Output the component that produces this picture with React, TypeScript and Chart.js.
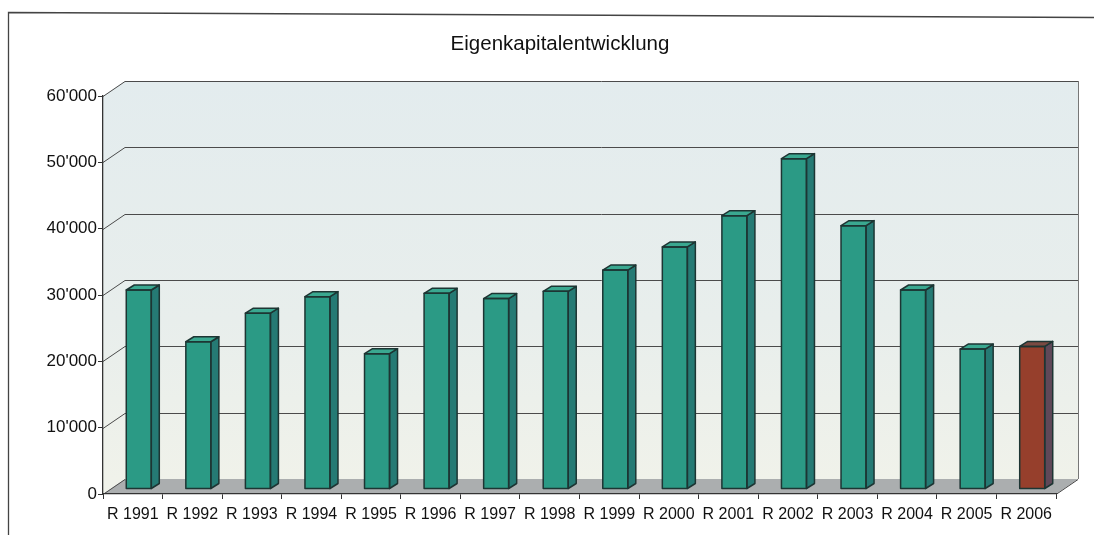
import React, { useEffect, useRef } from 'react';
import { Chart, registerables } from 'chart.js';

Chart.register(...registerables);

// ---- data ----
const categories = [
  'R 1991', 'R 1992', 'R 1993', 'R 1994', 'R 1995', 'R 1996', 'R 1997', 'R 1998',
  'R 1999', 'R 2000', 'R 2001', 'R 2002', 'R 2003', 'R 2004', 'R 2005', 'R 2006',
];
const equityValues = [
  30000, 22200, 26500, 29000, 20400, 29500, 28700, 29800,
  33000, 36500, 41200, 49800, 39700, 30000, 21100, 21500,
];
const highlightedCategory = 'R 2006';
const yTickValues = [0, 10000, 20000, 30000, 40000, 50000, 60000];
const chartTitle = 'Eigenkapitalentwicklung';

// ---- styling ----
const FONT = '"Liberation Sans", Arial, sans-serif';
const DEPTH_X = 22;
const DEPTH_Y = -15;
const BAR_SHIFT_X = 6;
const BAR_SHIFT_Y = -5;
const BAR_DX = 8;
const BAR_DY = -5;

const TEAL = { front: '#2b9a85', side: '#257a74', top: '#3aa890' };
const BROWN = { front: '#963f2c', side: '#5f4858', top: '#7a4a42' };
const OUTLINE = '#1d3533';

const isHighlighted = (i: number) => categories[i] === highlightedCategory;

const threeDPlugin = {
  id: 'threeD',
  beforeDraw(chart: any) {
    const { ctx, chartArea: a, scales } = chart;
    const ys = scales.y;
    ctx.save();
    ctx.fillStyle = '#ffffff';
    ctx.fillRect(0, 0, chart.width, chart.height);

    // outer frame
    ctx.strokeStyle = '#444';
    ctx.lineWidth = 1.3;
    ctx.beginPath();
    ctx.moveTo(8.5, chart.height);
    ctx.lineTo(8.5, 12.5);
    ctx.lineTo(chart.width, 17.5);
    ctx.stroke();

    // back wall
    const grad = ctx.createLinearGradient(0, a.top + DEPTH_Y, 0, a.bottom + DEPTH_Y);
    grad.addColorStop(0, '#e3ecee');
    grad.addColorStop(0.6, '#e8eeec');
    grad.addColorStop(1, '#f0f2ea');
    ctx.fillStyle = grad;
    ctx.fillRect(a.left + DEPTH_X, a.top + DEPTH_Y, a.right - a.left, a.bottom - a.top);

    // left wall
    ctx.beginPath();
    ctx.moveTo(a.left, a.top);
    ctx.lineTo(a.left + DEPTH_X, a.top + DEPTH_Y);
    ctx.lineTo(a.left + DEPTH_X, a.bottom + DEPTH_Y);
    ctx.lineTo(a.left, a.bottom);
    ctx.closePath();
    ctx.fill();

    // floor
    ctx.fillStyle = '#abaeaf';
    ctx.beginPath();
    ctx.moveTo(a.left, a.bottom);
    ctx.lineTo(a.right, a.bottom);
    ctx.lineTo(a.right + DEPTH_X, a.bottom + DEPTH_Y);
    ctx.lineTo(a.left + DEPTH_X, a.bottom + DEPTH_Y);
    ctx.closePath();
    ctx.fill();

    // gridlines
    ctx.strokeStyle = '#4b4b4b';
    ctx.lineWidth = 1;
    for (const v of yTickValues) {
      const py = Math.round(ys.getPixelForValue(v)) + 0.5;
      ctx.beginPath();
      ctx.moveTo(a.left, py);
      ctx.lineTo(a.left + DEPTH_X, py + DEPTH_Y);
      if (v !== 0) ctx.lineTo(a.right + DEPTH_X, py + DEPTH_Y);
      ctx.stroke();
    }
    // back wall right edge
    ctx.strokeStyle = '#777';
    ctx.beginPath();
    ctx.moveTo(a.right + DEPTH_X + 0.5, a.top + DEPTH_Y);
    ctx.lineTo(a.right + DEPTH_X + 0.5, a.bottom + DEPTH_Y);
    ctx.stroke();
    // floor right edge
    ctx.strokeStyle = '#444';
    ctx.beginPath();
    ctx.moveTo(a.right, a.bottom + 0.5);
    ctx.lineTo(a.right + DEPTH_X, a.bottom + DEPTH_Y + 0.5);
    ctx.stroke();

    // title
    ctx.fillStyle = '#111';
    ctx.font = `20.5px ${FONT}`;
    ctx.textAlign = 'center';
    ctx.textBaseline = 'middle';
    ctx.fillText(chartTitle, 560, 44);
    ctx.restore();
  },
  beforeDatasetsDraw(chart: any) {
    chart.ctx.save();
    chart.ctx.translate(BAR_SHIFT_X, BAR_SHIFT_Y);
  },
  afterDatasetsDraw(chart: any) {
    const ctx = chart.ctx;
    const meta = chart.getDatasetMeta(0);
    ctx.lineWidth = 1.5;
    ctx.strokeStyle = OUTLINE;
    ctx.lineJoin = 'round';
    meta.data.forEach((bar: any, i: number) => {
      const { x, y, base, width } = bar.getProps(['x', 'y', 'base', 'width'], true);
      const l = x - width / 2;
      const r = x + width / 2;
      const c = isHighlighted(i) ? BROWN : TEAL;
      // side face
      ctx.fillStyle = c.side;
      ctx.beginPath();
      ctx.moveTo(r, y);
      ctx.lineTo(r + BAR_DX, y + BAR_DY);
      ctx.lineTo(r + BAR_DX, base + BAR_DY);
      ctx.lineTo(r, base);
      ctx.closePath();
      ctx.fill();
      ctx.stroke();
      // top face
      ctx.fillStyle = c.top;
      ctx.beginPath();
      ctx.moveTo(l, y);
      ctx.lineTo(l + BAR_DX, y + BAR_DY);
      ctx.lineTo(r + BAR_DX, y + BAR_DY);
      ctx.lineTo(r, y);
      ctx.closePath();
      ctx.fill();
      ctx.stroke();
      // front outline
      ctx.strokeRect(l, y, width, base - y);
    });
    ctx.restore();
  },
};

export default function App() {
  const canvasRef = useRef<HTMLCanvasElement | null>(null);

  useEffect(() => {
    if (!canvasRef.current) return;
    const chart = new Chart(canvasRef.current, {
      type: 'bar',
      data: {
        labels: categories,
        datasets: [
          {
            label: 'Eigenkapital',
            data: equityValues,
            backgroundColor: (ctx: any) => (isHighlighted(ctx.dataIndex) ? BROWN.front : TEAL.front),
            borderWidth: 0,
            barPercentage: 0.42,
            categoryPercentage: 1,
            clip: false as any,
          },
        ],
      },
      options: {
        animation: false,
        responsive: false,
        devicePixelRatio: 1,
        layout: { padding: { left: 0, right: 38, top: 96, bottom: 0 } },
        plugins: {
          legend: { display: false },
          tooltip: { enabled: false },
          title: { display: false },
        },
        scales: {
          x: {
            offset: true,
            grid: {
              display: true,
              drawOnChartArea: false,
              drawTicks: true,
              tickLength: 5,
              color: '#333',
              offset: true,
            },
            border: { display: true, color: '#333', width: 1.3 },
            ticks: {
              color: '#111',
              font: { family: FONT, size: 16 },
              padding: 6,
              maxRotation: 0,
              autoSkip: false,
            },
            afterFit: (s: any) => {
              s.height = 41;
            },
          },
          y: {
            min: 0,
            max: 60000,
            afterBuildTicks: (s: any) => {
              s.ticks = yTickValues.map((v) => ({ value: v }));
            },
            grid: {
              display: true,
              drawOnChartArea: false,
              drawTicks: true,
              tickLength: 5,
              color: '#333',
            },
            border: { display: true, color: '#333', width: 1.3 },
            ticks: {
              color: '#111',
              font: { family: FONT, size: 17 },
              padding: 1,
              callback: (v: any) => (Number(v) === 0 ? '0' : `${Number(v) / 1000}'000`),
            },
            afterFit: (s: any) => {
              s.width = 103;
            },
          },
        },
      },
      plugins: [threeDPlugin],
    });
    return () => chart.destroy();
  }, []);

  return (
    <div style={{ position: 'fixed', left: 0, top: 0, width: 1094, height: 535, background: '#fff' }}>
      <canvas ref={canvasRef} width={1094} height={535} />
    </div>
  );
}
